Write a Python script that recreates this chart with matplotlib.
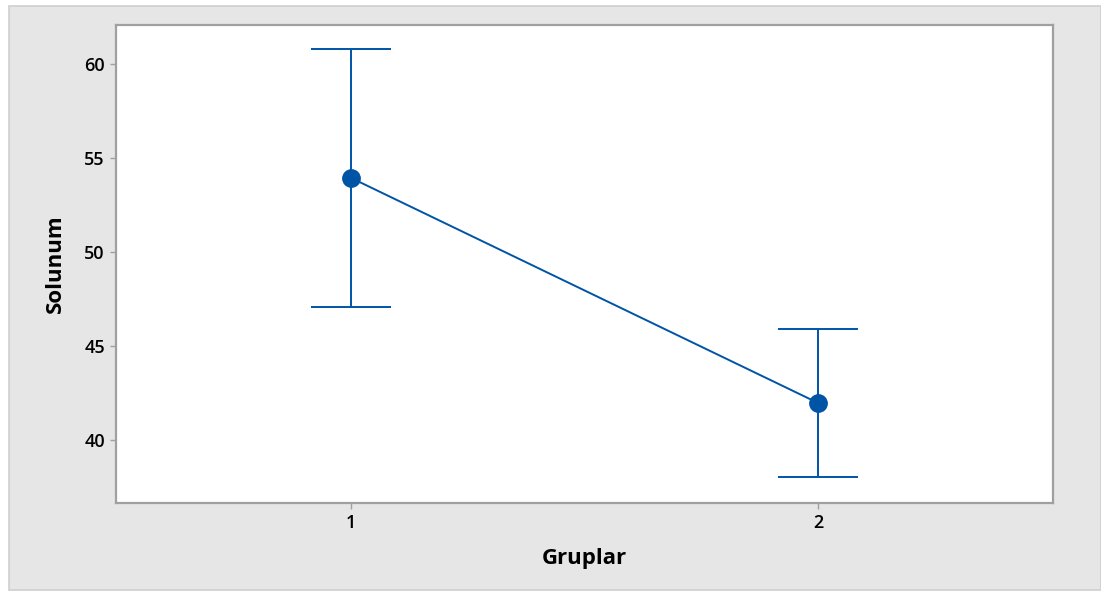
import matplotlib
matplotlib.use("Agg")
import matplotlib.pyplot as plt
from matplotlib.patches import Rectangle

# Group means with their interval half-widths
groups = ["1", "2"]
means = [53.94, 41.97]
errors = [6.87, 3.95]
yticks = [40, 45, 50, 55, 60]

blue = "#0054A6"
plt.rcParams["font.family"] = ["Open Sans", "DejaVu Sans"]

W, H = 1101, 592
fig = plt.figure(figsize=(W / 100, H / 100), dpi=100, facecolor="white")

# Gray panel behind the plot
fig.patches.append(Rectangle((9 / W, 2 / H), (W - 9) / W, (H - 8) / H,
                             transform=fig.transFigure, facecolor="#e6e6e6",
                             edgecolor="#cfcfcf", linewidth=1.2, zorder=-1))

ax = fig.add_axes([116 / W, 1 - 503 / H, (1053 - 116) / W, (503 - 25) / H])
ax.set_facecolor("white")

x = list(range(1, len(groups) + 1))
ax.errorbar(x, means, yerr=errors, color=blue, linewidth=1.4,
            marker="o", markersize=12.5, capsize=29, capthick=1.4,
            ecolor=blue, elinewidth=1.4)

ax.set_xlim(0.497, 2.503)
ax.set_ylim(36.65, 62.07)
ax.set_xticks(x)
ax.set_xticklabels(groups)
ax.set_yticks(yticks)

for s in ax.spines.values():
    s.set_color("#a0a0a0")
    s.set_linewidth(1.6)

ax.tick_params(axis="both", direction="out", length=4, width=1, color="#a0a0a0",
               labelsize=13, pad=4)
for lab in ax.get_xticklabels() + ax.get_yticklabels():
    lab.set_fontweight("semibold")

ax.set_xlabel("Gruplar", fontsize=16, fontweight="bold", labelpad=11.5)
ax.set_ylabel("Solunum", fontsize=16, fontweight="bold", labelpad=13.5)

fig.savefig("out.png", dpi=100, facecolor=fig.get_facecolor())
